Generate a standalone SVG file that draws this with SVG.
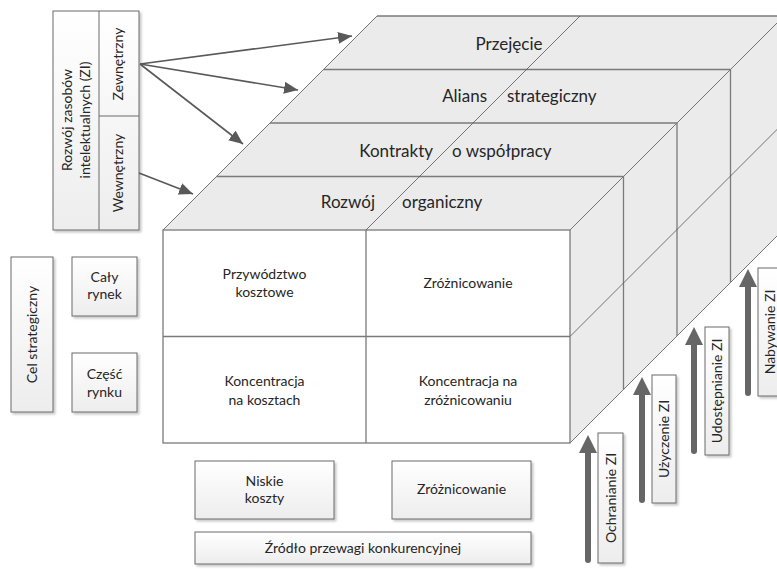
<svg xmlns="http://www.w3.org/2000/svg" width="777" height="569" viewBox="0 0 777 569">
<defs>
<linearGradient id="boxg" x1="0" y1="0" x2="0" y2="1">
<stop offset="0" stop-color="#ffffff"/>
<stop offset="1" stop-color="#ededed"/>
</linearGradient>
<filter id="sh" x="-20%" y="-20%" width="140%" height="140%">
<feDropShadow dx="2" dy="2" stdDeviation="1" flood-color="#000" flood-opacity="0.22"/>
</filter>
<marker id="ah" markerUnits="userSpaceOnUse" markerWidth="16" markerHeight="14" refX="14" refY="6" orient="auto">
<path d="M0,0 L14,6 L0,12 Z" fill="#595959"/>
</marker>
</defs>
<style>
text{font-family:Lato,"Open Sans","Liberation Sans",sans-serif;fill:#262626;}
.t17{font-size:17px;}
.t14{font-size:14px;}
.face{fill:#ebebeb;stroke:#7a7a7a;stroke-width:1.3;}
.ln{stroke:#7a7a7a;stroke-width:1.3;fill:none;}
.dg{stroke:#555;stroke-width:0.8;fill:none;}
.box{fill:url(#boxg);stroke:#6a6a6a;stroke-width:1;filter:url(#sh);}
.conn{stroke:#595959;stroke-width:1.6;fill:none;marker-end:url(#ah);}
.big{stroke:#666;stroke-width:6;stroke-linecap:round;fill:none;}
.bigh{fill:#666;}
</style>

<g id="cube">
<polygon fill="#ebebeb" points="163,230 377,16 784,16 570,230"/>
<polygon fill="#ebebeb" points="570,230 784,16 784,229 570,443"/>
<line class="ln" x1="377" y1="16" x2="784" y2="16"/>
<line class="dg" x1="163" y1="230" x2="377" y2="16"/>
<line class="dg" x1="570" y1="230" x2="784" y2="16"/>
<line class="dg" x1="570" y1="443" x2="784" y2="229"/>
<rect x="163" y="230" width="407" height="213" fill="#fff" stroke="#7a7a7a" stroke-width="1.3"/>
<line class="ln" x1="366" y1="230" x2="366" y2="443"/>
<line class="ln" x1="163" y1="336.5" x2="570" y2="336.5"/>
<line class="ln" x1="216.5" y1="176.5" x2="623.5" y2="176.5"/>
<line class="ln" x1="270" y1="123" x2="677" y2="123"/>
<line class="ln" x1="323.5" y1="69.5" x2="730.5" y2="69.5"/>
<line class="dg" x1="366" y1="230" x2="580" y2="16"/>
<line class="ln" x1="623.5" y1="176.5" x2="623.5" y2="389.5"/>
<line class="ln" x1="677" y1="123" x2="677" y2="336"/>
<line class="ln" x1="730.5" y1="69.5" x2="730.5" y2="282.5"/>
<line class="dg" x1="570" y1="336.5" x2="784" y2="122.5"/>
</g>

<g id="layer-przejecie"><text class="t17" x="509" y="50" text-anchor="middle">Przejęcie</text></g>
<g id="layer-alians"><text class="t17" x="487" y="102" text-anchor="end">Alians</text><text class="t17" x="507" y="102">strategiczny</text></g>
<g id="layer-kontrakty"><text class="t17" x="433" y="157" text-anchor="end">Kontrakty</text><text class="t17" x="452" y="157">o współpracy</text></g>
<g id="layer-rozwoj"><text class="t17" x="375" y="208" text-anchor="end">Rozwój</text><text class="t17" x="402" y="208">organiczny</text></g>

<g id="cell-przywodztwo"><text class="t14" x="264.5" y="279" text-anchor="middle">Przywództwo</text><text class="t14" x="264.5" y="297" text-anchor="middle">kosztowe</text></g>
<g id="cell-zroznicowanie"><text class="t14" x="468" y="288" text-anchor="middle">Zróżnicowanie</text></g>
<g id="cell-konc-koszt"><text class="t14" x="264.5" y="386" text-anchor="middle">Koncentracja</text><text class="t14" x="264.5" y="405" text-anchor="middle">na kosztach</text></g>
<g id="cell-konc-zroz"><text class="t14" x="468" y="386" text-anchor="middle">Koncentracja na</text><text class="t14" x="468" y="405" text-anchor="middle">zróżnicowaniu</text></g>

<g id="rozwoj-zi">
<rect class="box" x="53" y="11" width="86" height="219"/>
<line stroke="#6a6a6a" stroke-width="1" x1="99" y1="11" x2="99" y2="230"/>
<line stroke="#6a6a6a" stroke-width="1" x1="99" y1="116" x2="139" y2="116"/>
<text class="t14" transform="translate(72,120) rotate(-90)" text-anchor="middle">Rozwój zasobów</text>
<text class="t14" transform="translate(90,120) rotate(-90)" text-anchor="middle">intelektualnych (ZI)</text>
</g>
<g id="zewnetrzny"><text class="t14" transform="translate(123,64) rotate(-90)" text-anchor="middle">Zewnętrzny</text></g>
<g id="wewnetrzny"><text class="t14" transform="translate(123,173) rotate(-90)" text-anchor="middle">Wewnętrzny</text></g>

<g id="cel-strategiczny">
<rect class="box" x="11" y="257" width="42" height="155"/>
<text class="t14" transform="translate(37,334.5) rotate(-90)" text-anchor="middle">Cel strategiczny</text>
</g>
<g id="caly-rynek">
<rect class="box" x="72" y="257" width="65" height="59"/>
<text class="t14" x="104.5" y="282" text-anchor="middle">Cały</text>
<text class="t14" x="104.5" y="299" text-anchor="middle">rynek</text>
</g>
<g id="czesc-rynku">
<rect class="box" x="72" y="353" width="65" height="59"/>
<text class="t14" x="104.5" y="379" text-anchor="middle">Część</text>
<text class="t14" x="104.5" y="397" text-anchor="middle">rynku</text>
</g>

<g id="niskie-koszty">
<rect class="box" x="195" y="461" width="139" height="58"/>
<text class="t14" x="264.5" y="486" text-anchor="middle">Niskie</text>
<text class="t14" x="264.5" y="503" text-anchor="middle">koszty</text>
</g>
<g id="zroznicowanie-box">
<rect class="box" x="392" y="461" width="139" height="58"/>
<text class="t14" x="461.5" y="494" text-anchor="middle">Zróżnicowanie</text>
</g>
<g id="zrodlo">
<rect class="box" x="195" y="532" width="336" height="32"/>
<text class="t14" x="363" y="553" text-anchor="middle">Źródło przewagi konkurencyjnej</text>
</g>

<g id="ochranianie">
<rect class="box" x="598" y="433" width="25" height="130"/>
<text class="t14" transform="translate(616,498) rotate(-90)" text-anchor="middle">Ochranianie ZI</text>
</g>
<g id="uzyczenie">
<rect class="box" x="652" y="375" width="24" height="128"/>
<text class="t14" transform="translate(669,439) rotate(-90)" text-anchor="middle">Użyczenie ZI</text>
</g>
<g id="udostepnianie">
<rect class="box" x="705" y="327" width="24" height="128"/>
<text class="t14" transform="translate(722,391) rotate(-90)" text-anchor="middle">Udostępnianie ZI</text>
</g>
<g id="nabywanie">
<rect class="box" x="758" y="268" width="24" height="128"/>
<text class="t14" transform="translate(775,332) rotate(-90)" text-anchor="middle">Nabywanie ZI</text>
</g>

<g id="connectors">
<line class="conn" x1="140" y1="64" x2="352" y2="36"/>
<line class="conn" x1="140" y1="64" x2="298" y2="90"/>
<line class="conn" x1="140" y1="64" x2="243" y2="144"/>
<line class="conn" x1="139" y1="173" x2="193" y2="194"/>
<line class="big" x1="588" y1="560" x2="588" y2="450"/>
<polygon class="bigh" points="588,435 597,453 579,453"/>
<line class="big" x1="642" y1="500" x2="642" y2="392"/>
<polygon class="bigh" points="642,377 651,395 633,395"/>
<line class="big" x1="694" y1="451" x2="694" y2="342"/>
<polygon class="bigh" points="694,327 703,345 685,345"/>
<line class="big" x1="748" y1="393" x2="748" y2="284"/>
<polygon class="bigh" points="748,269 757,287 739,287"/>
</g>
</svg>
